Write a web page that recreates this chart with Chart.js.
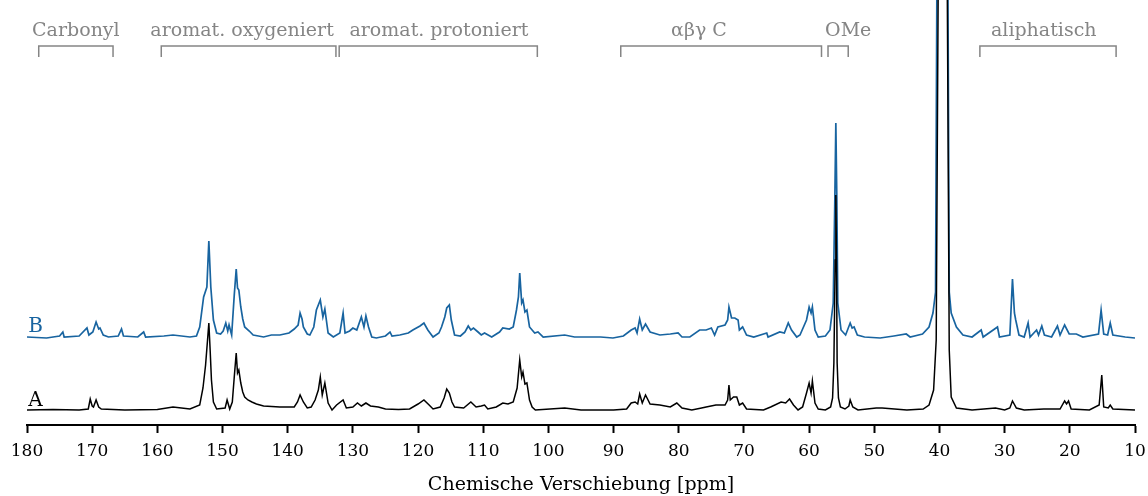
<!DOCTYPE html>
<html>
<head>
    <title>13C NMR Spektrum</title>
    <script src="https://cdn.jsdelivr.net/npm/chart.js"></script>
    <style>
        body { margin: 0; background: #fff; }
    </style>
</head>
<body>
<canvas id="nmrChart" width="1148" height="496"></canvas>
<script>
    // Spektrum A (schwarz): chemische Verschiebung [ppm] und Intensitaet
    const ppmA = [180, 176, 172, 170.6, 170.3, 170.0, 169.8, 169.4, 169.0, 168.6, 165, 160, 157.6, 155, 153.5, 153.0, 152.6, 152.3, 152.1, 151.9, 151.7, 151.4, 150.9,
        149.6, 149.3, 148.9, 148.5, 148.2, 147.9, 147.7, 147.5, 147.2, 146.9, 146.6, 146.1, 145.5, 144.8, 143.7, 141.2, 139.0, 138.5, 138.1, 137.6, 137.0,
        136.4, 135.8, 135.3, 135.0, 134.7, 134.3, 133.8, 133.2, 132.5, 131.5, 131.0, 130.0, 129.3, 128.7, 128.0, 127.3, 126.1, 125, 123, 121.3, 120.0, 119.1,
        118.3, 117.7, 116.6, 116.0, 115.6, 115.2, 114.8, 114.4, 113.0, 111.9, 111.1, 110.3, 109.8, 109.3, 108.0, 107.0, 106.2, 105.4, 104.8, 104.4, 104.1,
        103.9, 103.6, 103.3, 102.9, 102.5, 102.0, 97.5, 95, 90, 88, 87.3, 86.7, 86.3, 86.0, 85.6, 85.1, 84.4, 82.9, 81.3, 80.3, 79.5, 78, 76.5, 75.8, 74.3,
        72.9, 72.5, 72.3, 72.1, 71.6, 71.1, 70.7, 70.2, 69.6, 67, 65.9, 64.3, 63.6, 63.0, 62.4, 61.7, 61.0, 60.4, 60.0, 59.7, 59.5, 59.1, 58.6, 57.5, 56.7,
        56.4, 56.2, 56.0, 55.9, 55.8, 55.7, 55.5, 55.2, 54.5, 53.9, 53.7, 53.3, 52.5, 49.7, 48.8, 45, 42.5, 41.6, 40.9, 40.5, 40.2, 39.5, 38.8, 38.5, 38.2,
        37.4, 35, 31.4, 30, 29.2, 28.8, 28.2, 27, 24, 21.5, 20.8, 20.5, 20.2, 19.8, 17, 15.5, 15.1, 14.8, 14.1, 13.8, 13.4, 10];
    const intA = [0, 0.5, 0, 1, 11, 4, 3, 10, 3, 1, 0, 0.5, 3, 1, 5, 22, 45, 70, 87, 60, 30, 8, 1,
        2, 10, 1, 8, 33, 57, 37, 40, 27, 18, 13, 10, 8, 6, 4, 3, 3, 8, 15, 8, 2,
        3, 10, 20, 33, 15, 27, 7, 0, 5, 10, 2, 3, 7, 4, 7, 4, 3, 1, 0.5, 1, 6, 10,
        5, 1, 3, 12, 21, 17, 8, 3, 2, 8, 3, 4, 5, 1, 3, 7, 6, 8, 22, 50, 33,
        38, 26, 27, 10, 3, 0, 2, 0, 0, 1, 7, 8, 6, 16, 7, 15, 6, 5, 3, 7, 2, 0, 2, 3, 5,
        5, 10, 25, 10, 13, 13, 5, 7, 1, 0, 3, 8, 7, 11, 5, 0, 3, 17, 27, 17, 29, 7, 1, 0, 3,
        12, 47, 150, 215, 150, 47, 12, 3, 1, 4, 10, 3, 0, 2, 2, 0, 1, 5, 20, 70, 420, 3000, 420, 60, 13,
        2, 0, 2, 0, 2, 9, 2, 0, 1, 1, 9, 6, 9, 1, 0, 5, 35, 3, 2, 5, 1, 0];

    // Spektrum B (blau), Intensitaet relativ zur eigenen Basislinie
    const ppmB = [180, 177, 175, 174.5, 174.3, 172, 170.8, 170.5, 169.9, 169.4, 169.0, 168.8, 168.3, 167.5, 166, 165.5, 165.2, 163, 162.1, 161.8, 159, 157.6,
        155, 154, 153.5, 152.9, 152.4, 152.1, 151.8, 151.4, 150.9, 150.3, 149.9, 149.5, 149.2, 149.0, 148.6, 148.2, 147.9, 147.7, 147.5, 147.2, 146.9,
        146.6, 145.9, 145.3, 144.5, 143.7, 142.5, 141.2, 139.8, 139, 138.4, 138.1, 137.8, 137.6, 137.0, 136.6, 136.0, 135.6, 135.0, 134.6, 134.3, 133.8,
        133.0, 132.0, 131.5, 131.2, 130.5, 130.0, 129.4, 128.7, 128.3, 128.0, 127.6, 127.1, 126.4, 125, 124.3, 124, 122.8, 121.5, 120.8, 119.7, 119.1,
        118.5, 117.7, 116.8, 116.4, 115.9, 115.6, 115.2, 114.9, 114.4, 113.5, 112.8, 112.3, 111.9, 111.5, 110.8, 110.3, 109.8, 108.7, 107.5, 107.0, 106.0,
        105.4, 104.9, 104.6, 104.4, 104.1, 103.9, 103.6, 103.3, 102.9, 102.1, 101.6, 100.8, 97.5, 96, 92, 90.1, 88.5, 87.3, 86.7, 86.4, 86.0, 85.6, 85.1,
        84.4, 82.9, 81.3, 80.1, 79.5, 78.3, 76.8, 75.8, 75.0, 74.5, 74.0, 72.9, 72.5, 72.3, 71.9, 71.4, 70.9, 70.7, 70.2, 69.6, 68.5, 66.5, 66.3, 64.5,
        63.8, 63.2, 62.7, 61.9, 61.4, 60.4, 60.0, 59.7, 59.5, 59.1, 58.6, 57.5, 56.8, 56.3, 56.05, 55.9, 55.75, 55.6, 55.1, 54.4, 53.7, 53.4, 53.1, 52.6,
        51.5, 49.1, 47, 45.1, 44.5, 42.6, 41.6, 41.0, 40.6, 40.4, 39.5, 38.7, 38.5, 38.2, 37.4, 36.4, 35, 33.6, 33.3, 31.1, 30.8, 29.2, 28.8, 28.5, 28.3,
        27.8, 27, 26.4, 26.1, 25.1, 24.8, 24.3, 23.9, 22.8, 21.9, 21.5, 20.8, 20.1, 19, 18, 15.6, 15.2, 14.8, 14.2, 13.8, 13.4, 11.5, 10];
    const intB = [0, -1, 1, 5, 0, 1, 9, 2, 5, 15, 8, 9, 2, 0, 1, 8, 1, 0, 5, 0, 1, 2,
        0, 1, 10, 40, 50, 96, 50, 17, 4, 3, 6, 14, 6, 12, 2, 42, 68, 49, 47, 30, 18,
        10, 6, 2, 1, 0, 2, 2, 4, 8, 12, 24, 18, 10, 3, 2, 10, 27, 37, 20, 28, 4,
        0, 4, 24, 4, 6, 9, 7, 20, 10, 21, 10, 0, -1, 1, 5, 1, 2, 4, 7, 11, 14,
        7, 0, 4, 10, 20, 29, 32, 17, 2, 1, 5, 11, 7, 9, 5, 2, 4, 0, 5, 9, 8,
        10, 27, 40, 64, 34, 37, 25, 27, 10, 4, 5, 0, 2, 0, 0, -1, 1, 7, 9, 4, 18, 7, 13,
        5, 2, 3, 4, 0, 0, 7, 7, 9, 2, 10, 12, 17, 30, 19, 19, 17, 7, 10, 2, 0, 4, 0, 5,
        4, 14, 7, 0, 2, 17, 30, 24, 30, 7, 0, 1, 7, 34, 140, 214, 140, 34, 7, 2, 14, 9, 10, 2,
        0, -1, 1, 3, 0, 3, 10, 24, 45, 345, 3000, 345, 45, 24, 10, 2, 0, 7, 0, 10, 0, 2, 58, 24, 17,
        2, 0, 14, 0, 7, 2, 11, 2, 0, 11, 2, 12, 3, 3, 0, 3, 27, 3, 2, 14, 2, 0, -1];

    const offsetB = 73;

    // Bereiche oben im Bild
    const regionNames = ['Carbonyl', 'aromat. oxygeniert', 'aromat. protoniert', '\u03b1\u03b2\u03b3 C', 'OMe', 'aliphatisch'];
    const regionFrom = [178.2, 159.4, 132.1, 88.9, 57.1, 33.8];
    const regionTo = [166.8, 132.6, 101.7, 58.1, 54.0, 12.9];
    const regionLabelAt = [172.5, 147.0, 116.8, 76.9, 54.0, 24.0];

    const serif = '"DejaVu Serif", "Liberation Serif", serif';
    const blue = '#1864a0';

    const annotations = {
        id: 'annotations',
        afterDatasetsDraw(chart) {
            const ctx = chart.ctx;
            const x = chart.scales.x;
            const y = chart.scales.y;
            ctx.save();
            // Bereichsklammern
            ctx.strokeStyle = '#858585';
            ctx.lineWidth = 1.5;
            ctx.fillStyle = '#858585';
            ctx.font = '19px ' + serif;
            ctx.textAlign = 'center';
            ctx.textBaseline = 'alphabetic';
            regionNames.forEach((name, i) => {
                let x1 = x.getPixelForValue(regionFrom[i]);
                let x2 = x.getPixelForValue(regionTo[i]);
                ctx.beginPath();
                ctx.moveTo(x1, 57);
                ctx.lineTo(x1, 46);
                ctx.lineTo(x2, 46);
                ctx.lineTo(x2, 57);
                ctx.stroke();
                ctx.fillText(name, x.getPixelForValue(regionLabelAt[i]), 36);
            });
            // Spektrenbezeichnungen
            ctx.font = '20px ' + serif;
            ctx.textAlign = 'left';
            ctx.fillStyle = '#000';
            ctx.fillText('A', x.getPixelForValue(179.8), y.getPixelForValue(4));
            ctx.fillStyle = blue;
            ctx.fillText('B', x.getPixelForValue(179.8), y.getPixelForValue(offsetB + 5));
            ctx.restore();
        }
    };

    let ctx = document.getElementById('nmrChart').getContext('2d');
    let chart = new Chart(ctx, {
        type: 'line',
        data: {
            datasets: [{
                label: 'A',
                data: ppmA.map((p, i) => ({x: p, y: intA[i]})),
                borderColor: '#000',
                borderWidth: 1.5,
                pointRadius: 0,
                tension: 0
            }, {
                label: 'B',
                data: ppmB.map((p, i) => ({x: p, y: intB[i] + offsetB})),
                borderColor: blue,
                borderWidth: 1.7,
                pointRadius: 0,
                tension: 0
            }]
        },
        options: {
            responsive: false,
            animation: false,
            layout: {padding: {left: 27, right: 13, top: 0, bottom: 0}},
            plugins: {legend: {display: false}, tooltip: {enabled: false}},
            scales: {
                x: {
                    type: 'linear',
                    reverse: true,
                    min: 10,
                    max: 180,
                    afterFit(scale) {
                        scale.height = 71;
                        scale.paddingLeft = 0;
                        scale.paddingRight = 0;
                    },
                    ticks: {
                        stepSize: 10,
                        autoSkip: false,
                        maxRotation: 0,
                        padding: 8,
                        color: '#000',
                        font: {family: serif, size: 17}
                    },
                    grid: {drawOnChartArea: false, tickLength: 8, tickWidth: 2, color: '#000'},
                    border: {color: '#000', width: 2},
                    title: {
                        display: true,
                        text: 'Chemische Verschiebung [ppm]',
                        color: '#000',
                        font: {family: serif, size: 19},
                        padding: {top: 0, bottom: 0}
                    }
                },
                y: {display: false, min: -15, max: 410}
            }
        },
        plugins: [annotations]
    });
</script>
</body>
</html>
